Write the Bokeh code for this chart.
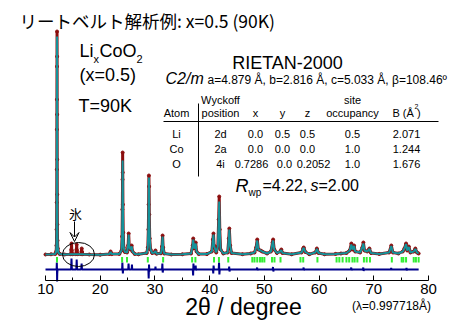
from bokeh.plotting import figure
from bokeh.models import Range1d, Label, Arrow, VeeHead, FixedTicker
from bokeh.embed import file_html
from bokeh.resources import INLINE

# ---------------- data ----------------
two_theta = [10.0, 11.0, 11.8, 11.95, 12.0, 12.03, 12.05, 12.07, 12.08, 12.09, 12.10, 12.11,
             12.12, 12.13, 12.14, 12.15, 12.17, 12.2, 12.25, 12.35, 12.6, 13.5,
             14.6, 14.72, 14.76, 14.8, 14.95, 15.55, 15.66, 15.7, 15.74, 15.9, 16.5, 16.58, 16.62, 16.66, 16.8,
             18.0, 20.0, 21.7, 21.9, 22.1, 23.5, 23.9, 24.0, 24.05, 24.08, 24.1, 24.12, 24.15,
             24.2, 24.3, 24.5, 24.9, 25.1, 25.2, 25.3, 25.5, 25.75, 25.9, 26.3, 27.0,
             28.5, 28.7, 28.8, 28.85, 28.9, 28.93, 28.97, 29.05, 29.2, 29.5, 29.9, 30.1, 30.3,
             31.1, 31.3, 31.4, 31.5, 31.7, 33.0, 35.0, 36.6, 36.9, 37.0, 37.15, 37.35, 37.45,
             37.6, 38.0, 39.5, 40.4, 40.6, 40.7, 40.8, 41.2, 41.5, 41.65, 41.75, 41.85, 42.0,
             42.5, 43.3, 43.5, 43.6, 43.75, 44.0, 46.0, 47.5, 48.2, 48.5, 48.7, 48.9, 49.3,
             49.6, 50.5, 51.2, 51.5, 51.6, 51.8, 52.3, 52.9, 53.1, 53.3, 55.0, 56.8, 57.1,
             57.2, 57.5, 58.2, 59.3, 59.6, 59.9, 61.0, 63.0, 64.0, 65.0, 65.6, 65.9, 66.1,
             66.4, 66.6, 67.5, 67.9, 68.1, 68.3, 68.8, 69.2, 69.5, 71.0, 72.8, 73.2, 73.5,
             74.5, 75.3, 75.6, 75.9, 76.1, 76.4, 76.7, 77.3, 77.6, 77.9, 78.2]
y_obs = [0, 20, 60, 300, 900, 2500, 5200, 8500, 12500, 15500, 18800, 22300,
         19800, 14000, 9500, 6000, 3000, 1400, 600, 200, 50, 0,
         30, 500, 1100, 400, 30, 30, 500, 1000, 400, 30, 30, 300, 600, 250, 30,
         0, -20, 50, 300, 40, 60, 400, 1800, 4500, 7500, 10200, 8200, 5000,
         2200, 700, 250, 200, 900, 2100, 800, 500, 900, 300, 60, 20,
         150, 700, 2500, 5000, 7900, 6800, 4000, 1600, 500, 150, 200, 400, 80,
         120, 800, 1900, 700, 100, 0, 20, 100, 900, 1600, 600, 800, 1200,
         300, 50, 40, 300, 1500, 2100, 900, 200, 800, 3500, 5800, 2500, 500,
         100, 200, 1600, 2600, 900, 150, 30, 100, 200, 700, 1500, 500, 400,
         300, 100, 300, 1200, 1500, 500, 150, 300, 500, 150, 20, 200, 600,
         700, 250, 30, 200, 600, 150, 20, 60, 100, 150, 400, 1100, 500,
         900, 300, 200, 700, 1200, 400, 300, 600, 150, 60, 200, 900, 200,
         100, 300, 600, 1100, 400, 800, 200, 300, 600, 200, 100]
y_calc = [0, 20, 60, 300, 900, 2400, 5000, 8200, 12000, 15000, 18500, 21800,
          19500, 14200, 9600, 6000, 3000, 1400, 600, 200, 50, 0,
          20, 20, 20, 20, 20, 20, 20, 20, 20, 20, 20, 20, 20, 20, 20,
          0, -20, 50, 250, 40, 60, 400, 1800, 4400, 7200, 9400, 8000, 5000,
          2200, 700, 250, 200, 900, 2000, 800, 500, 800, 300, 60, 20,
          150, 700, 2600, 5200, 7700, 6800, 4000, 1600, 500, 150, 200, 350, 80,
          120, 750, 1800, 700, 100, 0, 20, 100, 900, 1500, 600, 800, 1100,
          300, 50, 40, 300, 1500, 2000, 900, 200, 800, 3400, 5300, 2500, 500,
          100, 200, 1600, 2500, 900, 150, 30, 100, 200, 700, 1400, 500, 400,
          300, 100, 300, 1200, 1400, 500, 150, 300, 450, 150, 20, 200, 600,
          650, 250, 30, 200, 550, 150, 20, 60, 100, 150, 400, 1000, 500,
          850, 300, 200, 700, 1100, 400, 300, 550, 150, 60, 200, 850, 200,
          100, 300, 600, 1050, 400, 750, 200, 300, 550, 200, 100]

diff_x = [10.0, 12.03, 12.07, 12.1, 12.12, 12.15, 12.2,
          14.68, 14.75, 14.82, 15.63, 15.7, 15.77, 16.53, 16.6, 16.67,
          24.0, 24.05, 24.1, 24.14, 24.2,
          25.12, 25.18, 25.25, 25.75, 25.8, 25.85,
          28.8, 28.86, 28.92, 28.98, 29.05,
          30.05, 30.1, 30.15,
          31.3, 31.36, 31.42, 31.5,
          36.92, 36.98, 37.04, 37.1, 37.4, 37.45, 37.5, 37.55,
          40.6, 40.66, 40.72, 40.8,
          41.66, 41.72, 41.78, 41.85,
          43.52, 43.57, 43.63, 43.7,
          48.62, 48.68, 48.74, 48.8,
          51.52, 51.58, 51.64, 51.7,
          57.12, 57.18, 57.24, 57.3,
          65.82, 65.88, 65.94, 66.0,
          68.02, 68.08, 68.14, 68.2,
          73.12, 73.18, 73.24, 73.3,
          75.92, 75.98, 76.04, 76.1,
          78.2]
diff_y = [-1500, -1500, -800, -1500, -2700, -1900, -1500,
          -1500, -400, -1500, -1500, -500, -1500, -1500, -900, -1500,
          -1500, -800, -1500, -1900, -1500,
          -1500, -900, -1500, -1500, -1000, -1500,
          -1500, -2400, -1000, -1700, -1500,
          -1500, -1200, -1500,
          -1500, -900, -1800, -1500,
          -1500, -2100, -900, -1500, -1500, -1100, -1600, -1500,
          -1500, -1900, -1100, -1500,
          -1500, -800, -2000, -1500,
          -1500, -1200, -1700, -1500,
          -1500, -1300, -1600, -1500,
          -1500, -1250, -1700, -1500,
          -1500, -1300, -1600, -1500,
          -1500, -1300, -1600, -1500,
          -1500, -1300, -1650, -1500,
          -1500, -1350, -1550, -1500,
          -1500, -1350, -1600, -1500,
          -1500]

reflections = [12.1, 24.0, 24.9, 28.7, 31.5, 36.8, 37.4, 40.8, 41.7, 43.4,
               47.8, 48.2, 48.7, 49.2, 49.6, 50.0, 51.4, 51.85, 52.95, 56.6, 57.1, 59.7,
               63.2, 63.7, 64.3, 65.0, 65.5, 66.1, 66.5, 67.0, 68.2, 68.7, 69.3,
               73.3, 75.1, 75.4, 75.9, 77.3, 77.7, 78.2]

x_ticks = [10, 20, 30, 40, 50, 60, 70, 80]
x_minor = [15, 25, 35, 45, 55, 65, 75]

atoms = ["Li", "Co", "O"]
wyckoff = ["2d", "2a", "4i"]
pos_x = ["0.0", "0.0", "0.7286"]
pos_y = ["0.5", "0.0", "0.0"]
pos_z = ["0.5", "0.0", "0.2052"]
occupancy = ["0.5", "1.0", "1.0"]
b_iso = ["2.071", "1.244", "1.676"]

# ---------------- layout helpers (pixel -> data) ----------------
W, H = 468, 333
AXIS_PX = 280                   # pixel row of the x axis line
K = (428 - 45) / 70.0           # px per degree
X0 = 10 - 45 / K
X1 = 80 + (W - 428) / K
def X(px):
    return 10 + (px - 45) / K
def Y(py):
    return (254 - py) * 100.0

p = figure(width=W, height=H, output_backend="svg", toolbar_location=None,
           x_range=Range1d(X0, X1), y_range=Range1d(Y(H), Y(0)),
           y_axis_location=None, min_border_left=0, min_border_right=0,
           min_border_top=0, min_border_bottom=0)
p.outline_line_color = None
p.xgrid.visible = False
p.ygrid.visible = False
p.background_fill_color = "white"

ax = p.xaxis[0]
ax.fixed_location = Y(AXIS_PX)
ax.bounds = (10, 80)
ax.ticker = FixedTicker(ticks=x_ticks, minor_ticks=x_minor)
ax.major_tick_in = 5
ax.major_tick_out = 0
ax.minor_tick_in = 3
ax.minor_tick_out = 0
ax.axis_line_color = "black"
ax.major_tick_line_color = "black"
ax.minor_tick_line_color = "black"
ax.major_label_text_font = "Liberation Sans"
ax.major_label_text_font_size = "15px"
ax.major_label_text_color = "black"
ax.major_label_standoff = 3

# observed band + points, calculated line, difference, reflection markers
p.line(two_theta, y_obs, line_color="#8b0d0d", line_width=3)
p.scatter(two_theta, y_obs, size=3, color="#8b0d0d")
p.line(two_theta, y_calc, line_color="#14929a", line_width=2)
p.line(diff_x, diff_y, line_color="#00008b", line_width=2)
p.segment(x0=reflections, y0=[-250] * len(reflections), x1=reflections,
          y1=[-800] * len(reflections), line_color="#33ee33", line_width=2)

# ice marker
p.ellipse(x=[X(78)], y=[Y(254)], width=[32 / K], height=[2400], fill_color=None,
          line_color="black", line_width=1)
p.add_layout(Arrow(end=VeeHead(size=9, line_color="black", line_width=1, fill_color=None),
                   x_start=X(74), y_start=Y(221), x_end=X(74), y_end=Y(241),
                   line_color="black", line_width=1))

def txt(text, px, py, size, align="left", style="normal", font="Liberation Sans"):
    p.add_layout(Label(x=X(px), y=Y(py), text=text, text_font=font,
                       text_font_size=f"{size}px", text_font_style=style,
                       text_align=align, text_baseline="middle", text_color="black"))

txt("リートベルト解析例: x=0.5 (90K)", 19, 20, 17.5, font="Noto Sans CJK JP")
txt("氷", 75, 213, 13, align="center", font="Noto Sans CJK JP")

txt("Li", 79, 50, 18)
txt("x", 93, 58, 11)
txt("CoO", 99, 50, 18)
txt("2", 136, 58, 11)
txt("(x=0.5)", 79, 74, 18)
txt("T=90K", 78, 105, 18)

txt("RIETAN-2000", 287, 62, 18, align="center")
txt("C2/m", 165, 78, 16, style="italic")
txt("a=4.879 Å, b=2.816 Å, c=5.033 Å, β=108.46º", 207, 79, 12)

# table
col_atom, col_pos, col_x, col_y, col_z, col_occ, col_b = 176, 220, 255, 282, 307, 352, 406
txt("Wyckoff", col_pos, 99, 11, align="center")
txt("site", col_occ, 99, 11, align="center")
txt("Atom", col_atom, 112, 11, align="center")
txt("position", col_pos, 112, 11, align="center")
txt("x", col_x, 112, 11, align="center")
txt("y", col_y, 112, 11, align="center")
txt("z", col_z, 112, 11, align="center")
txt("occupancy", col_occ, 112, 11, align="center")
txt("B (Å )", col_b, 112, 11, align="center")
txt("2", col_b + 8, 106, 7)
p.segment(x0=[X(163)], y0=[Y(121)], x1=[X(438)], y1=[Y(121)], line_color="black", line_width=1)
p.segment(x0=[X(198)], y0=[Y(103)], x1=[X(198)], y1=[Y(176)], line_color="black", line_width=1)
row_y = [133, 148, 163]
for i in range(3):
    ry = row_y[i]
    txt(atoms[i], col_atom, ry, 11, align="center")
    txt(wyckoff[i], col_pos, ry, 11, align="center")
    txt(pos_x[i], col_x - (4 if i == 2 else 0), ry, 11, align="center")
    txt(pos_y[i], col_y + (2 if i == 2 else 0), ry, 11, align="center")
    txt(pos_z[i], col_z + (6 if i == 2 else 0), ry, 11, align="center")
    txt(occupancy[i], col_occ, ry, 11, align="center")
    txt(b_iso[i], col_b, ry, 11, align="center")

# R factors
txt("R", 235, 185, 18, style="italic")
txt("wp", 248, 192, 10)
txt("=4.22,", 262, 185, 16)
txt("s", 310, 185, 16, style="italic")
txt("=2.00", 318, 185, 16)

# axis title and wavelength note below the axis
txt("2θ / degree", 243, 306, 23, align="center")
txt("(λ=0.997718Å)", 391, 305, 12, align="center")

open("out.html", "w").write(file_html(p, INLINE))
